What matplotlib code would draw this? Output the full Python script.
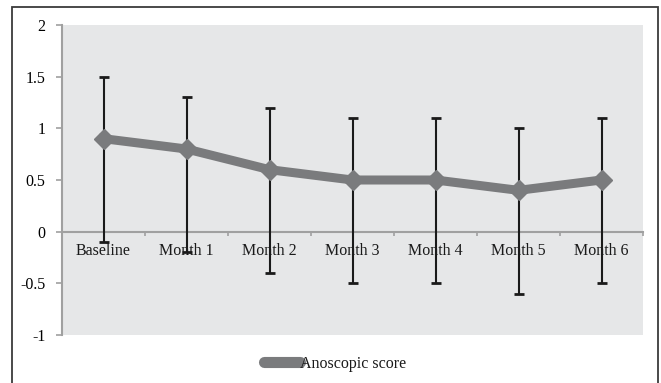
import matplotlib
matplotlib.use("Agg")
import matplotlib.pyplot as plt
from matplotlib.patches import Rectangle
import numpy as np

categories = ["Baseline", "Month 1", "Month 2", "Month 3", "Month 4", "Month 5", "Month 6"]
scores = [0.9, 0.8, 0.6, 0.5, 0.5, 0.4, 0.5]
err_low = [1.0, 1.0, 1.0, 1.0, 1.0, 1.0, 1.0]
err_high = [0.6, 0.5, 0.6, 0.6, 0.6, 0.6, 0.6]
yticks = [-1, -0.5, 0, 0.5, 1, 1.5, 2]
ytick_labels = ["-1", "-0.5", "0", "0.5", "1", "1.5", "2"]
series_name = "Anoscopic score"

plt.rcParams['font.family'] = ['Liberation Serif', 'DejaVu Serif']

W, H = 661, 383
fig = plt.figure(figsize=(W/100, H/100), dpi=100)
fig.patch.set_facecolor("white")

# outer border
fig.add_artist(Rectangle((12/W, -0.05), (658-12)/W, 1.05 - 7/H, transform=fig.transFigure,
                         fill=False, edgecolor="#3a3a3a", linewidth=1.3, clip_on=False))

ax = fig.add_axes([62/W, 1-335/H, (643-62)/W, (335-25)/H])
ax.set_facecolor("#e6e7e8")
x = np.arange(len(categories))

ax.errorbar(x, scores, yerr=[err_low, err_high], fmt="none", ecolor="#1a1a1a",
            elinewidth=1.5, capsize=3.5, capthick=2, zorder=3)
ax.plot(x, scores, color="#7a7b7d", linewidth=6.5, marker="D", markersize=10,
        markeredgecolor="#7a7b7d", zorder=4, label=series_name, solid_joinstyle="miter")

ax.set_xlim(-0.5, len(categories) - 0.5)
ax.set_ylim(-1, 2)
ax.set_yticks(yticks)
ax.set_yticklabels(ytick_labels, fontsize=11.5)

for s in ["top", "right"]:
    ax.spines[s].set_visible(False)
ax.spines["left"].set_color("#a0a0a0")
ax.spines["left"].set_linewidth(1.5)
ax.spines["bottom"].set_position(("data", 0))
ax.spines["bottom"].set_color("#a0a0a0")
ax.spines["bottom"].set_linewidth(1.5)
ax.spines["bottom"].set_zorder(2)

ax.set_xticks(np.arange(-0.5, len(categories), 1.0))
ax.set_xticklabels([])
ax.tick_params(axis="x", direction="out", length=3, color="#a0a0a0", width=1.2)
ax.tick_params(axis="y", direction="out", length=4, color="#a0a0a0", width=1.2, pad=8)

for xi, c in zip(x, categories):
    ax.text(xi, -0.11, c, ha="center", va="top", fontsize=11.5, color="#1a1a1a", zorder=2)

leg = fig.legend(loc="center", bbox_to_anchor=(335/W, 1-364/H), frameon=False, fontsize=11.5,
                 handlelength=2.3, handletextpad=0.0, markerscale=0.0001)
for line in leg.get_lines():
    line.set_linewidth(8)
    line.set_solid_capstyle("round")
for t in leg.get_texts():
    t.set_color("#1a1a1a")

fig.savefig("out.png", dpi=100)
